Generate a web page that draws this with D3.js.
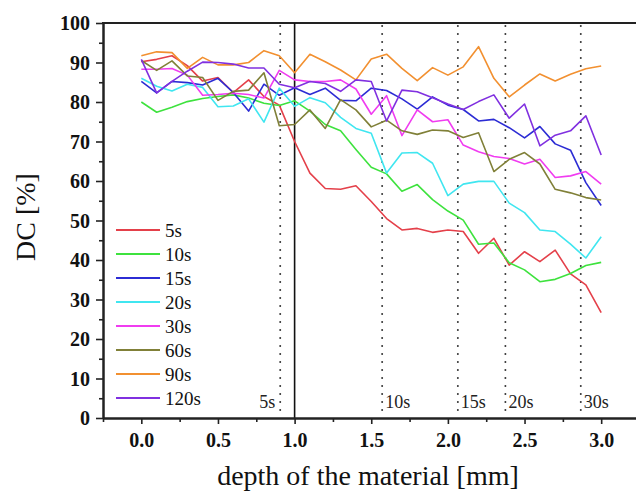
<!DOCTYPE html>
<html>
<head>
<meta charset="utf-8">
<script src="https://cdn.jsdelivr.net/npm/d3@7"></script>
<style>
  html, body { margin: 0; padding: 0; background: #fff; }
  svg { display: block; }
  svg text { font-family: "Liberation Serif", "Times New Roman", Times, serif; }
</style>
</head>
<body>
<svg id="chart" width="636" height="494"></svg>
<script>
// Depth positions along the sample (mm)
const depth = [0.0, 0.1, 0.2, 0.3, 0.4, 0.5, 0.6, 0.7, 0.8, 0.9, 1.0,
               1.1, 1.2, 1.3, 1.4, 1.5, 1.6, 1.7, 1.8, 1.9, 2.0,
               2.1, 2.2, 2.3, 2.4, 2.5, 2.6, 2.7, 2.8, 2.9, 3.0];

// Degree of conversion (%) for each curing time
const dc5s   = [90.2, 90.8, 91.7, 89.2, 85.3, 86.2, 82.4, 85.6, 81.4, 79.2, 70.0,
                62.0, 58.1, 57.9, 58.8, 54.8, 50.5, 47.6, 48.0, 47.0, 47.6,
                47.2, 41.7, 45.5, 38.7, 42.1, 39.6, 42.5, 36.5, 33.7, 26.7];
const dc10s  = [80.0, 77.4, 78.7, 80.1, 80.9, 81.4, 81.8, 81.0, 79.7, 79.1, 80.3,
                77.7, 74.3, 72.7, 68.0, 63.5, 61.8, 57.4, 59.1, 55.3, 52.4,
                50.1, 44.0, 44.3, 39.3, 37.5, 34.5, 35.1, 36.6, 38.6, 39.4];
const dc15s  = [85.2, 82.3, 85.2, 84.9, 84.3, 86.0, 82.4, 77.7, 84.5, 81.7, 83.6,
                81.9, 83.5, 80.4, 80.3, 83.5, 82.9, 80.8, 78.2, 81.3, 79.2,
                78.1, 75.2, 75.6, 73.5, 70.9, 73.8, 69.4, 67.8, 59.6, 53.8];
const dc20s  = [86.0, 84.0, 82.8, 84.5, 83.7, 78.8, 79.0, 80.8, 74.9, 83.5, 78.9,
                81.1, 79.8, 76.1, 73.3, 72.1, 62.0, 67.1, 67.2, 64.5, 56.3,
                59.2, 59.9, 59.9, 54.4, 52.0, 47.6, 47.2, 44.0, 40.5, 45.9];
const dc30s  = [88.3, 88.3, 88.5, 86.8, 81.7, 81.9, 82.2, 81.9, 81.0, 88.0, 85.6,
                85.2, 85.2, 85.6, 83.3, 76.9, 81.6, 71.5, 78.0, 75.0, 75.5,
                69.1, 67.4, 66.2, 65.7, 64.3, 65.5, 60.9, 61.3, 62.4, 59.2];
const dc60s  = [90.5, 88.0, 90.4, 86.6, 86.2, 80.4, 82.7, 83.0, 87.4, 74.0, 74.3,
                78.0, 73.3, 80.6, 78.0, 73.7, 75.4, 72.7, 71.8, 72.9, 72.7,
                71.0, 72.2, 62.4, 65.5, 67.2, 64.3, 57.9, 57.0, 55.8, 55.2];
const dc90s  = [91.7, 92.7, 92.5, 88.5, 91.3, 89.4, 89.4, 90.0, 93.0, 91.7, 87.4,
                92.1, 90.2, 88.1, 85.6, 90.9, 92.1, 88.5, 85.4, 88.7, 86.8,
                88.9, 94.0, 86.0, 81.3, 84.3, 87.1, 85.3, 87.0, 88.4, 89.1];
const dc120s = [90.8, 82.3, 85.2, 87.8, 90.1, 90.0, 89.6, 88.6, 88.6, 84.5, 83.6,
                85.2, 84.7, 82.7, 85.6, 85.2, 75.2, 83.0, 82.6, 81.1, 79.5,
                78.1, 80.1, 81.8, 75.9, 79.5, 68.9, 71.6, 72.7, 76.5, 66.6];

const seriesNames  = ["5s", "10s", "15s", "20s", "30s", "60s", "90s", "120s"];
const seriesValues = [dc5s, dc10s, dc15s, dc20s, dc30s, dc60s, dc90s, dc120s];
const seriesColors = ["#e4404a", "#3ee23e", "#2c2cd4", "#40e6f0", "#f03cf0", "#808038", "#f29030", "#8030e0"];

// Depth at which each curing time drops below the threshold
const markerLabels = ["5s", "10s", "15s", "20s", "30s"];
const markerDepths = [0.906, 1.571, 2.065, 2.375, 2.867];
const referenceDepth = 1.0;

const xTicks = [0.0, 0.5, 1.0, 1.5, 2.0, 2.5, 3.0];
const xMinorTicks = [-0.25, 0.25, 0.75, 1.25, 1.75, 2.25, 2.75, 3.25];
const yTicks = [0, 10, 20, 30, 40, 50, 60, 70, 80, 90, 100];
const yMinorTicks = [5, 15, 25, 35, 45, 55, 65, 75, 85, 95];

const svg = d3.select("#chart");
const serif = "Liberation Serif";
const axisColor = "#222";

const x = d3.scaleLinear().domain([-0.25, 3.25]).range([103, 639.5]);
const y = d3.scaleLinear().domain([0, 100]).range([418, 23]);

// Frame line along the top
svg.append("line")
  .attr("x1", x(-0.25) - 1).attr("x2", 636)
  .attr("y1", y(100)).attr("y2", y(100))
  .attr("stroke", axisColor).attr("stroke-width", 2);

// Threshold markers (dotted) and the 1 mm reference (solid)
svg.append("g").selectAll("line")
  .data(markerDepths)
  .join("line")
  .attr("x1", d => x(d)).attr("x2", d => x(d))
  .attr("y1", y(100) + 3).attr("y2", y(0))
  .attr("stroke", "#333")
  .attr("stroke-width", 2)
  .attr("stroke-linecap", "round")
  .attr("stroke-dasharray", "0.1 7.9");

svg.append("line")
  .attr("x1", x(referenceDepth)).attr("x2", x(referenceDepth))
  .attr("y1", y(100)).attr("y2", y(0))
  .attr("stroke", "#111").attr("stroke-width", 1.6);

svg.append("g").selectAll("text")
  .data(markerLabels)
  .join("text")
  .attr("x", (d, i) => i === 0 ? x(markerDepths[i]) - 5 : x(markerDepths[i]) + 3)
  .attr("y", 408)
  .attr("text-anchor", (d, i) => i === 0 ? "end" : "start")
  .style("font-family", serif)
  .attr("font-size", 18)
  .attr("fill", "#222")
  .text(d => d);

// Curves
const line = d3.line()
  .x((d, i) => x(depth[i]))
  .y(d => y(d));

svg.append("g").selectAll("path")
  .data(seriesValues)
  .join("path")
  .attr("d", d => line(d))
  .attr("fill", "none")
  .attr("stroke", (d, i) => seriesColors[i])
  .attr("stroke-width", 1.6)
  .attr("stroke-linejoin", "round");

// Axes
function styleAxis(g) {
  g.attr("font-family", null);
  g.select(".domain").attr("stroke", axisColor).attr("stroke-width", 2);
  g.selectAll(".tick line").attr("stroke", axisColor).attr("stroke-width", 1.6);
  g.selectAll("text")
    .style("font-family", serif)
    .attr("font-weight", "bold")
    .attr("font-size", 20)
    .attr("fill", "#111");
}

svg.append("g")
  .attr("transform", `translate(${x(-0.25)},0)`)
  .call(d3.axisLeft(y).tickValues(yMinorTicks).tickSize(4).tickSizeOuter(0).tickFormat(""))
  .call(styleAxis);

svg.append("g")
  .attr("transform", `translate(${x(-0.25)},0)`)
  .call(d3.axisLeft(y).tickValues(yTicks).tickSize(7).tickSizeOuter(0).tickPadding(6).tickFormat(d3.format("d")))
  .call(styleAxis)
  .call(g => g.selectAll(".tick text").attr("dy", "0.34em"));

svg.append("g")
  .attr("transform", `translate(0,${y(0)})`)
  .call(d3.axisBottom(x).tickValues(xMinorTicks).tickSize(4).tickSizeOuter(0).tickFormat(""))
  .call(styleAxis);

svg.append("g")
  .attr("transform", `translate(0,${y(0)})`)
  .call(d3.axisBottom(x).tickValues(xTicks).tickSize(6).tickSizeOuter(0).tickPadding(9).tickFormat(d3.format(".1f")))
  .call(styleAxis);

// Axis titles
svg.append("text")
  .attr("transform", "translate(35,217) rotate(-90)")
  .attr("text-anchor", "middle")
  .style("font-family", serif)
  .attr("font-size", 28)
  .attr("fill", "#111")
  .text("DC [%]");

svg.append("text")
  .attr("x", 368).attr("y", 485)
  .attr("text-anchor", "middle")
  .style("font-family", serif)
  .attr("font-size", 28)
  .attr("fill", "#111")
  .text("depth of the material [mm]");

// Legend
const legend = svg.append("g").attr("transform", "translate(116,230)");
const item = legend.selectAll("g")
  .data(seriesNames)
  .join("g")
  .attr("transform", (d, i) => `translate(0,${i * 24})`);
item.append("line")
  .attr("x1", 0).attr("x2", 44)
  .attr("stroke", (d, i) => seriesColors[i])
  .attr("stroke-width", 1.8);
item.append("text")
  .attr("x", 49).attr("y", 7)
  .style("font-family", serif)
  .attr("font-size", 19)
  .attr("fill", "#111")
  .text(d => d);
</script>
</body>
</html>
